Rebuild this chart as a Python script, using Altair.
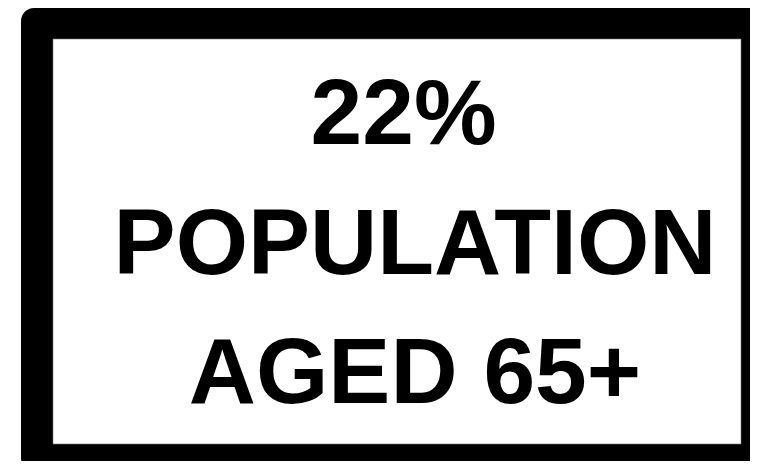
import altair as alt
import pandas as pd

# Text content of the card
headline = ["22%"]
label_lines = ["POPULATION", "AGED 65+"]
all_lines = headline + label_lines

W, H = 742, 453

head_df = pd.DataFrame({"line": headline})
label_df = pd.DataFrame({"line": label_lines})
frame_df = pd.DataFrame({"k": [0]})

y_scale = alt.Scale(domain=all_lines, range=[132, 391], padding=0)

outer = alt.Chart(frame_df).mark_rect(
    color="black", cornerRadius=13
).encode(
    x=alt.value(13), x2=alt.value(820),
    y=alt.value(-4), y2=alt.value(459),
)
inner = alt.Chart(frame_df).mark_rect(
    color="white", stroke="#777777", strokeWidth=0.6
).encode(
    x=alt.value(45), x2=alt.value(733),
    y=alt.value(27), y2=alt.value(432),
)

text_style = dict(font="Liberation Sans", fontWeight="bold", fontSize=93,
                  color="black", align="center", baseline="alphabetic")

head = alt.Chart(head_df).mark_text(**text_style).encode(
    y=alt.Y("line:O", scale=y_scale, axis=None),
    x=alt.value(395.5),
    text="line:N",
)
labels = alt.Chart(label_df).mark_text(**text_style).encode(
    y=alt.Y("line:O", scale=y_scale, axis=None),
    x=alt.value(407),
    text="line:N",
)

chart = alt.layer(outer, inner, head, labels).properties(
    width=W, height=H,
    autosize=alt.AutoSizeParams(type="fit", contains="padding"),
    padding=0, background="white",
).configure_view(stroke=None)

chart.save("out.html", embed_options={"renderer": "svg", "actions": False})
